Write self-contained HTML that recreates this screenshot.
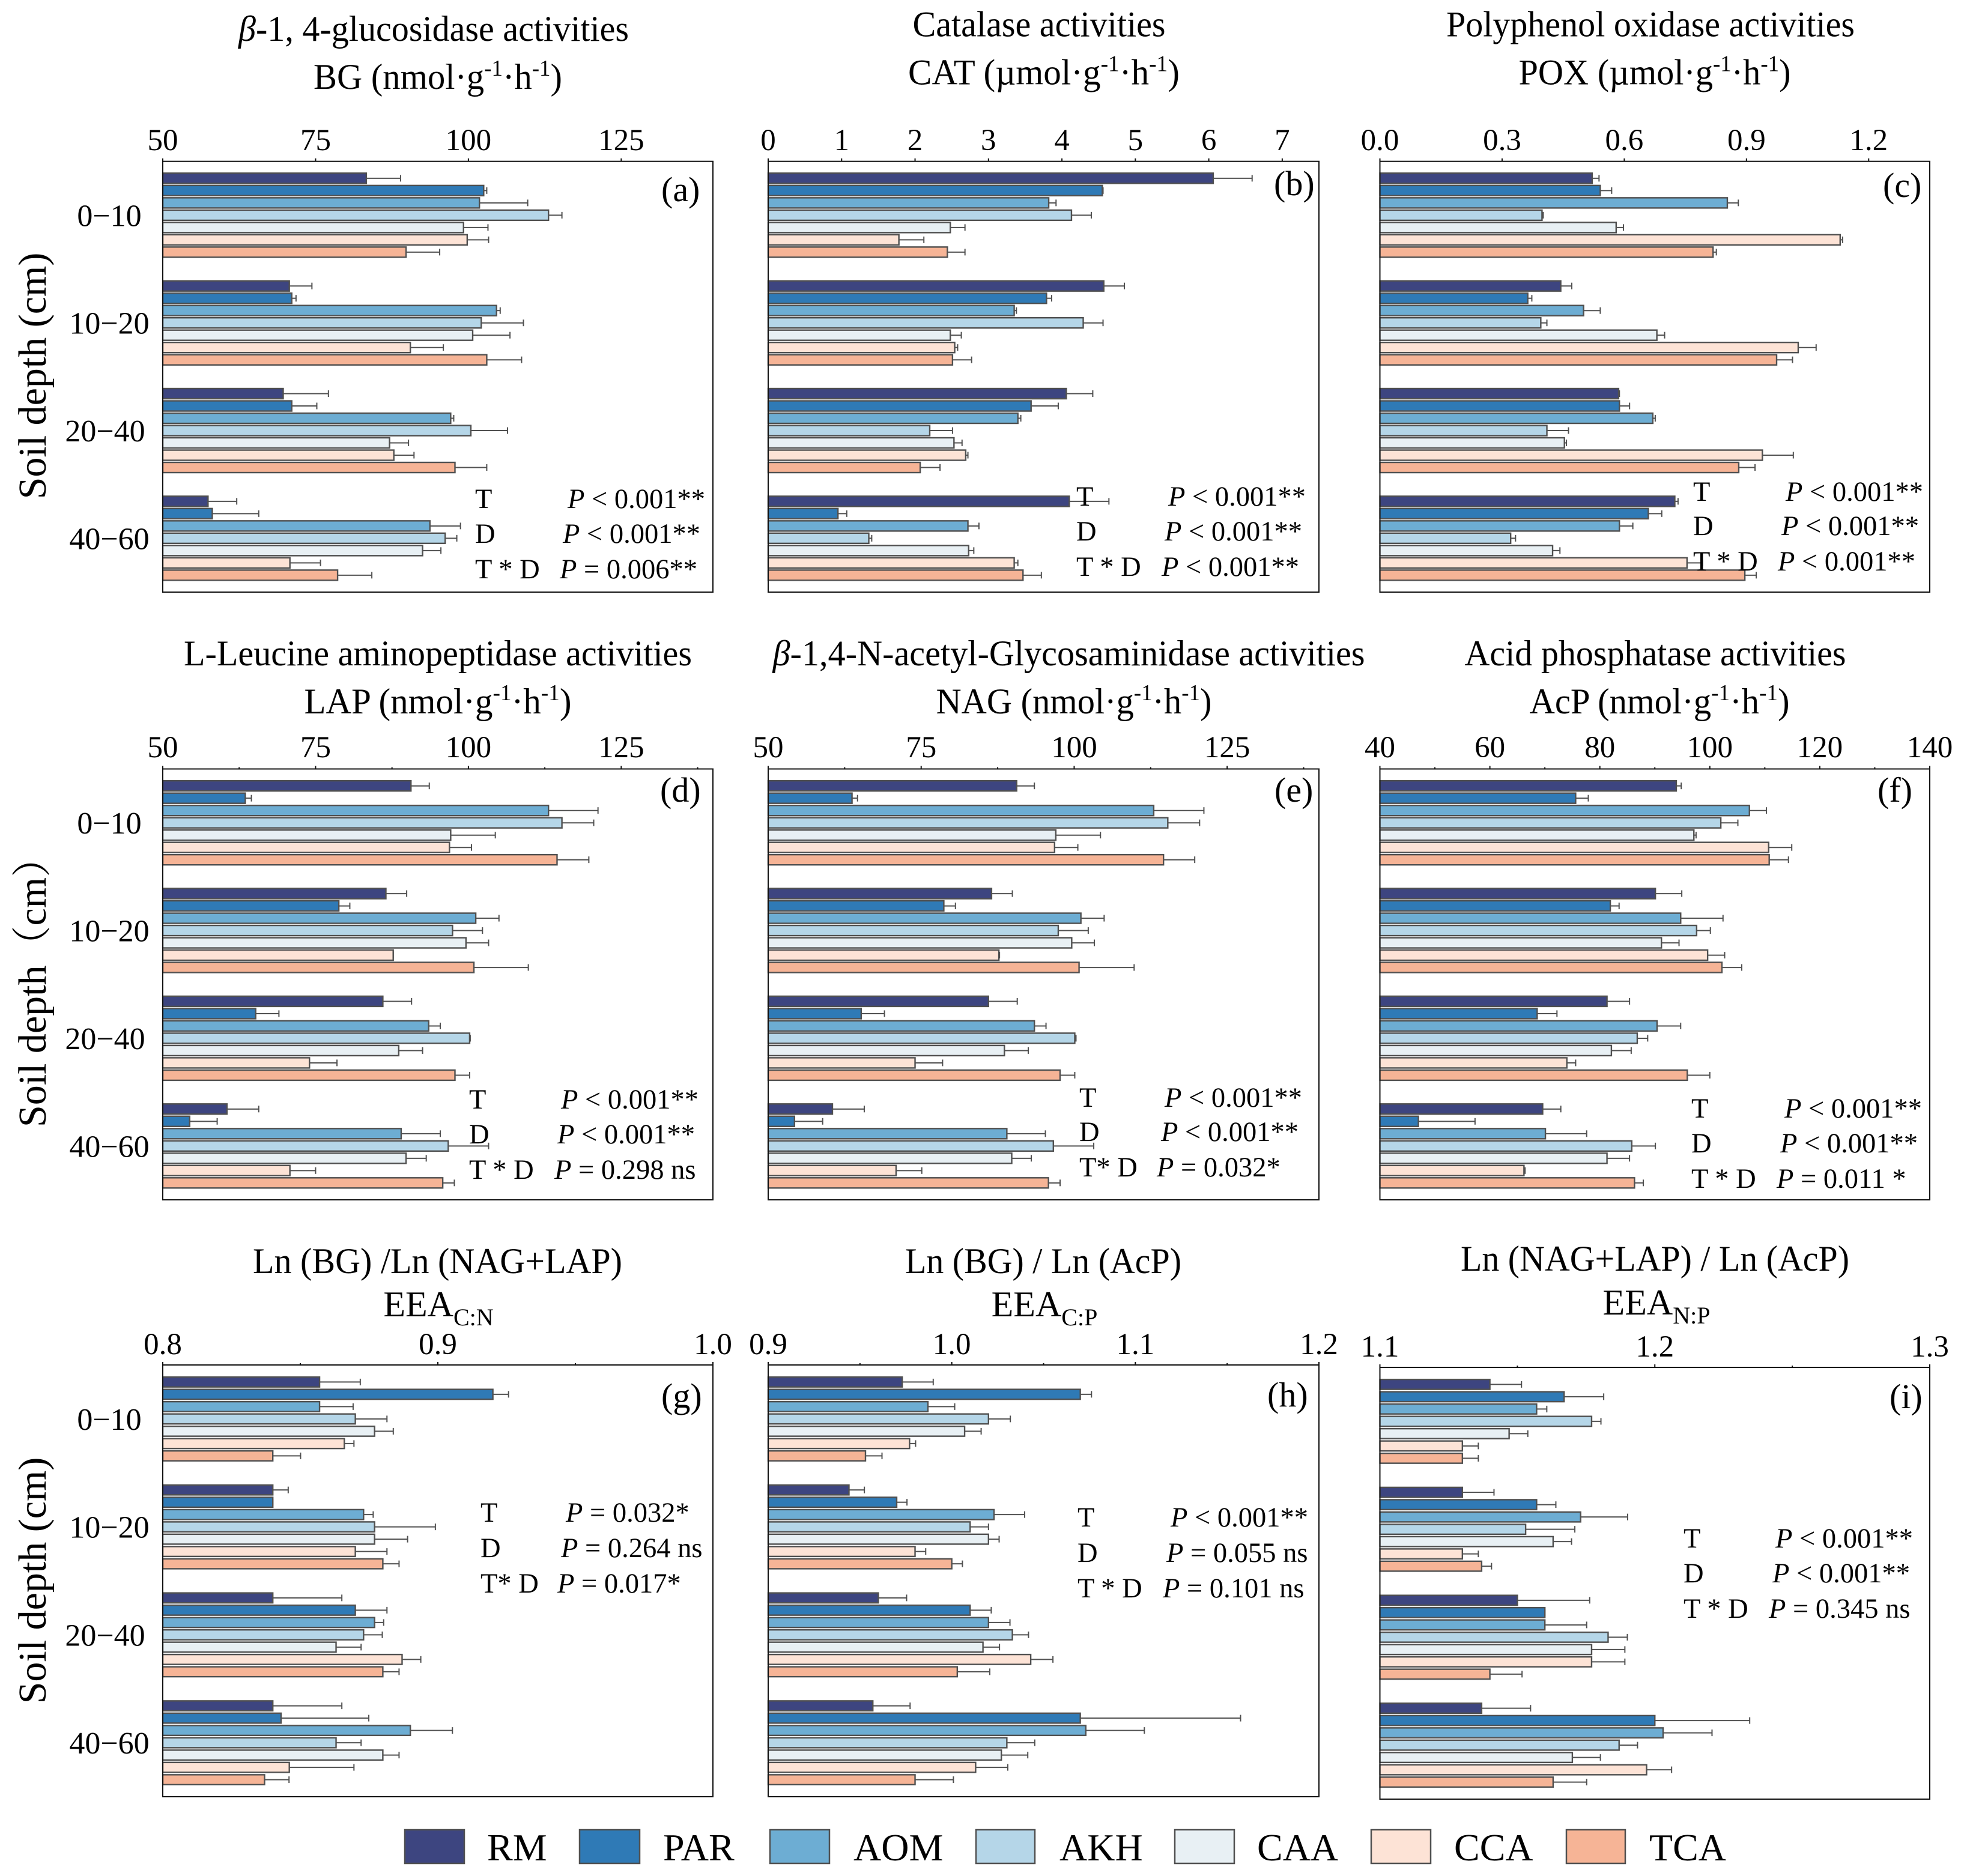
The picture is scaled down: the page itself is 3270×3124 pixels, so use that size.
<!DOCTYPE html>
<html lang="en">
<head>
<meta charset="utf-8">
<title>Soil enzyme activities by depth</title>
<style>
html,body{margin:0;padding:0;background:#fff;}
svg{display:block;}
text{font-family:"Liberation Serif","Noto Serif CJK SC",serif;fill:#000;}
.ttl{font-size:60px;text-anchor:middle;}
.ann{font-size:46.5px;}
.plab{font-size:58px;}
.ylab{font-size:66px;text-anchor:middle;}
.leg{font-size:64px;}
.it{font-style:italic;}
</style>
</head>
<body>
<svg id="figure" xmlns="http://www.w3.org/2000/svg" width="3270" height="3124" viewBox="0 0 3270 3124">
<rect x="0" y="0" width="3270" height="3124" fill="#fff"/>

<g id="plots"></g>

<g>
<text class="ttl" x="722" y="68" textLength="650" lengthAdjust="spacingAndGlyphs"><tspan class="it">β</tspan>-1, 4-glucosidase activities</text>
<text class="ttl" x="729" y="148" textLength="414" lengthAdjust="spacingAndGlyphs">BG (nmol·g<tspan dy="-22" font-size="38">-1</tspan><tspan dy="22">·h</tspan><tspan dy="-22" font-size="38">-1</tspan><tspan dy="22">)</tspan></text>
<text class="ttl" x="1730" y="60.5" textLength="421" lengthAdjust="spacingAndGlyphs">Catalase activities</text>
<text class="ttl" x="1738" y="140.5" textLength="452" lengthAdjust="spacingAndGlyphs">CAT (µmol·g<tspan dy="-22" font-size="38">-1</tspan><tspan dy="22">·h</tspan><tspan dy="-22" font-size="38">-1</tspan><tspan dy="22">)</tspan></text>
<text class="ttl" x="2748" y="60.5" textLength="680" lengthAdjust="spacingAndGlyphs">Polyphenol oxidase activities</text>
<text class="ttl" x="2755" y="140.5" textLength="453" lengthAdjust="spacingAndGlyphs">POX (µmol·g<tspan dy="-22" font-size="38">-1</tspan><tspan dy="22">·h</tspan><tspan dy="-22" font-size="38">-1</tspan><tspan dy="22">)</tspan></text>

<text class="ttl" x="729" y="1108" textLength="846" lengthAdjust="spacingAndGlyphs">L-Leucine aminopeptidase activities</text>
<text class="ttl" x="729" y="1188" textLength="445" lengthAdjust="spacingAndGlyphs">LAP (nmol·g<tspan dy="-22" font-size="38">-1</tspan><tspan dy="22">·h</tspan><tspan dy="-22" font-size="38">-1</tspan><tspan dy="22">)</tspan></text>
<text class="ttl" x="1779.5" y="1108" textLength="986" lengthAdjust="spacingAndGlyphs"><tspan class="it">β</tspan>-1,4-N-acetyl-Glycosaminidase activities</text>
<text class="ttl" x="1788" y="1188" textLength="459" lengthAdjust="spacingAndGlyphs">NAG (nmol·g<tspan dy="-22" font-size="38">-1</tspan><tspan dy="22">·h</tspan><tspan dy="-22" font-size="38">-1</tspan><tspan dy="22">)</tspan></text>
<text class="ttl" x="2756" y="1108" textLength="635" lengthAdjust="spacingAndGlyphs">Acid phosphatase activities</text>
<text class="ttl" x="2763" y="1188" textLength="433" lengthAdjust="spacingAndGlyphs">AcP (nmol·g<tspan dy="-22" font-size="38">-1</tspan><tspan dy="22">·h</tspan><tspan dy="-22" font-size="38">-1</tspan><tspan dy="22">)</tspan></text>

<text class="ttl" x="728.5" y="2120" textLength="615" lengthAdjust="spacingAndGlyphs">Ln (BG) /Ln (NAG+LAP)</text>
<text class="ttl" x="730" y="2192">EEA<tspan dy="15" font-size="40">C:N</tspan></text>
<text class="ttl" x="1737" y="2120" textLength="460" lengthAdjust="spacingAndGlyphs">Ln (BG) / Ln (AcP)</text>
<text class="ttl" x="1739" y="2192">EEA<tspan dy="15" font-size="40">C:P</tspan></text>
<text class="ttl" x="2755.5" y="2116" textLength="647" lengthAdjust="spacingAndGlyphs">Ln (NAG+LAP) / Ln (AcP)</text>
<text class="ttl" x="2758" y="2189">EEA<tspan dy="15" font-size="40">N:P</tspan></text>
</g>

<g>
<text class="ylab" transform="translate(76,626) rotate(-90)">Soil depth (cm)</text>
<text class="ylab" style="text-anchor:start" transform="translate(76,1877) rotate(-90)">Soil depth（cm）</text>
<text class="ylab" transform="translate(76,2632) rotate(-90)">Soil depth (cm)</text>
</g>

<g>
<text class="plab" x="1101" y="335">(a)</text>
<text class="plab" x="2121" y="325">(b)</text>
<text class="plab" x="3135" y="328">(c)</text>
<text class="plab" x="1099" y="1335">(d)</text>
<text class="plab" x="2122" y="1335">(e)</text>
<text class="plab" x="3126" y="1335">(f)</text>
<text class="plab" x="1101" y="2344">(g)</text>
<text class="plab" x="2110" y="2342">(h)</text>
<text class="plab" x="3146" y="2345">(i)</text>
</g>

<g>
<text class="ann" x="791" y="846">T</text>
<text class="ann" x="945" y="846"><tspan class="it">P</tspan> &lt; 0.001**</text>
<text class="ann" x="791" y="904">D</text>
<text class="ann" x="937" y="904"><tspan class="it">P</tspan> &lt; 0.001**</text>
<text class="ann" x="791" y="963">T * D</text>
<text class="ann" x="932" y="963"><tspan class="it">P</tspan> = 0.006**</text>

<text class="ann" x="1792" y="842">T</text>
<text class="ann" x="1945" y="842"><tspan class="it">P</tspan> &lt; 0.001**</text>
<text class="ann" x="1792" y="900">D</text>
<text class="ann" x="1939" y="900"><tspan class="it">P</tspan> &lt; 0.001**</text>
<text class="ann" x="1792" y="959">T * D</text>
<text class="ann" x="1934" y="959"><tspan class="it">P</tspan> &lt; 0.001**</text>

<text class="ann" x="2819" y="834">T</text>
<text class="ann" x="2973" y="834"><tspan class="it">P</tspan> &lt; 0.001**</text>
<text class="ann" x="2819" y="891">D</text>
<text class="ann" x="2966" y="891"><tspan class="it">P</tspan> &lt; 0.001**</text>
<text class="ann" x="2819" y="950">T * D</text>
<text class="ann" x="2960" y="950"><tspan class="it">P</tspan> &lt; 0.001**</text>

<text class="ann" x="781" y="1846">T</text>
<text class="ann" x="934" y="1846"><tspan class="it">P</tspan> &lt; 0.001**</text>
<text class="ann" x="781" y="1904">D</text>
<text class="ann" x="928" y="1904"><tspan class="it">P</tspan> &lt; 0.001**</text>
<text class="ann" x="781" y="1963">T * D</text>
<text class="ann" x="923" y="1963"><tspan class="it">P</tspan> = 0.298 ns</text>

<text class="ann" x="1797" y="1843">T</text>
<text class="ann" x="1939" y="1843"><tspan class="it">P</tspan> &lt; 0.001**</text>
<text class="ann" x="1797" y="1900">D</text>
<text class="ann" x="1933" y="1900"><tspan class="it">P</tspan> &lt; 0.001**</text>
<text class="ann" x="1797" y="1959">T* D</text>
<text class="ann" x="1926" y="1959"><tspan class="it">P</tspan> = 0.032*</text>

<text class="ann" x="2816" y="1861">T</text>
<text class="ann" x="2971" y="1861"><tspan class="it">P</tspan> &lt; 0.001**</text>
<text class="ann" x="2816" y="1919">D</text>
<text class="ann" x="2964" y="1919"><tspan class="it">P</tspan> &lt; 0.001**</text>
<text class="ann" x="2816" y="1978">T * D</text>
<text class="ann" x="2958" y="1978"><tspan class="it">P</tspan> = 0.011 *</text>

<text class="ann" x="800" y="2534">T</text>
<text class="ann" x="942" y="2534"><tspan class="it">P</tspan> = 0.032*</text>
<text class="ann" x="800" y="2593">D</text>
<text class="ann" x="934" y="2593"><tspan class="it">P</tspan> = 0.264 ns</text>
<text class="ann" x="800" y="2652">T* D</text>
<text class="ann" x="928" y="2652"><tspan class="it">P</tspan> = 0.017*</text>

<text class="ann" x="1794" y="2542">T</text>
<text class="ann" x="1949" y="2542"><tspan class="it">P</tspan> &lt; 0.001**</text>
<text class="ann" x="1794" y="2601">D</text>
<text class="ann" x="1942" y="2601"><tspan class="it">P</tspan> = 0.055 ns</text>
<text class="ann" x="1794" y="2660">T * D</text>
<text class="ann" x="1936" y="2660"><tspan class="it">P</tspan> = 0.101 ns</text>

<text class="ann" x="2803" y="2577">T</text>
<text class="ann" x="2956" y="2577"><tspan class="it">P</tspan> &lt; 0.001**</text>
<text class="ann" x="2803" y="2635">D</text>
<text class="ann" x="2951" y="2635"><tspan class="it">P</tspan> &lt; 0.001**</text>
<text class="ann" x="2803" y="2694">T * D</text>
<text class="ann" x="2945" y="2694"><tspan class="it">P</tspan> = 0.345 ns</text>
</g>

<g stroke-width="2.5">
<rect x="674" y="3047" width="99" height="56" fill="#3d4580" stroke="#505050"/>
<text class="leg" x="811" y="3098">RM</text>
<rect x="965" y="3047" width="100" height="56" fill="#2f7ab6" stroke="#505050"/>
<text class="leg" x="1104" y="3098">PAR</text>
<rect x="1282" y="3047" width="99" height="56" fill="#6dadd3" stroke="#505050"/>
<text class="leg" x="1421" y="3098">AOM</text>
<rect x="1625" y="3047" width="98" height="56" fill="#b5d6e8" stroke="#505050"/>
<text class="leg" x="1764" y="3098">AKH</text>
<rect x="1956" y="3047" width="99" height="56" fill="#e8f0f4" stroke="#505050"/>
<text class="leg" x="2093" y="3098">CAA</text>
<rect x="2283" y="3047" width="99" height="56" fill="#fde3d6" stroke="#505050"/>
<text class="leg" x="2421" y="3098">CCA</text>
<rect x="2608" y="3047" width="98" height="56" fill="#f6b496" stroke="#505050"/>
<text class="leg" x="2746" y="3098">TCA</text>
</g>
</svg>

<script>
// Categories
const depths = ["0−10", "10−20", "20−40", "40−60"];
const treatments = ["RM", "PAR", "AOM", "AKH", "CAA", "CCA", "TCA"];

// Axis ticks
const bgTicks = ["50", "75", "100", "125"];
const catTicks = ["0", "1", "2", "3", "4", "5", "6", "7"];
const poxTicks = ["0.0", "0.3", "0.6", "0.9", "1.2"];
const lapTicks = ["50", "75", "100", "125"];
const nagTicks = ["50", "75", "100", "125"];
const acpTicks = ["40", "60", "80", "100", "120", "140"];
const cnTicks = ["0.8", "0.9", "1.0"];
const cpTicks = ["0.9", "1.0", "1.1", "1.2"];
const npTicks = ["1.1", "1.2", "1.3"];
const noMinor = [];
const lapMinor = [62.5, 87.5, 112.5, 137.5];
const nagMinor = [62.5, 87.5, 112.5, 137.5];
const acpMinor = [50, 70, 90, 110, 130];
const cnMinor = [0.85, 0.95];
const cpMinor = [0.95, 1.05, 1.15];
const npMinor = [1.15, 1.25];

// Series values: one row per depth, one entry per treatment
const bgValues = [
  [83.3, 102.5, 101.8, 113.1, 99.2, 99.8, 89.8],
  [70.7, 71.1, 104.6, 102.1, 100.7, 90.5, 103.0],
  [69.7, 71.1, 97.1, 100.4, 87.1, 87.8, 97.8],
  [57.4, 58.1, 93.7, 96.2, 92.5, 70.8, 78.6]
];
const bgErrors = [
  [5.6, 0.5, 7.9, 2.2, 4.0, 3.5, 5.5],
  [3.7, 0.7, 0.6, 6.9, 6.1, 5.4, 5.7],
  [7.4, 4.1, 0.5, 6.0, 3.1, 3.3, 5.2],
  [4.7, 7.6, 5.0, 1.9, 3.0, 5.0, 5.6]
];
const catValues = [
  [6.06, 4.55, 3.82, 4.13, 2.48, 1.78, 2.44],
  [4.57, 3.79, 3.35, 4.29, 2.48, 2.54, 2.51],
  [4.06, 3.58, 3.40, 2.20, 2.53, 2.69, 2.07],
  [4.10, 0.95, 2.72, 1.37, 2.73, 3.35, 3.47]
];
const catErrors = [
  [0.53, 0.01, 0.10, 0.27, 0.20, 0.34, 0.24],
  [0.28, 0.07, 0.03, 0.27, 0.15, 0.04, 0.26],
  [0.36, 0.37, 0.04, 0.31, 0.11, 0.03, 0.27],
  [0.54, 0.12, 0.15, 0.04, 0.07, 0.05, 0.25]
];
const poxValues = [
  [0.521, 0.541, 0.853, 0.398, 0.580, 1.130, 0.818],
  [0.444, 0.363, 0.500, 0.395, 0.680, 1.027, 0.974],
  [0.586, 0.588, 0.670, 0.410, 0.453, 0.939, 0.881],
  [0.724, 0.659, 0.588, 0.321, 0.424, 0.754, 0.896]
];
const poxErrors = [
  [0.017, 0.028, 0.027, 0.003, 0.018, 0.006, 0.008],
  [0.027, 0.010, 0.041, 0.015, 0.019, 0.044, 0.039],
  [0.002, 0.025, 0.006, 0.053, 0.005, 0.076, 0.040],
  [0.008, 0.033, 0.033, 0.012, 0.018, 0.038, 0.028]
];
const lapValues = [
  [90.6, 63.5, 113.1, 115.3, 97.1, 96.9, 114.5],
  [86.5, 78.8, 101.2, 97.4, 99.6, 87.7, 100.9],
  [86.0, 65.2, 93.5, 100.2, 88.6, 74.0, 97.8],
  [60.5, 54.4, 89.0, 96.7, 89.8, 70.8, 95.8]
];
const lapErrors = [
  [3.0, 1.0, 8.1, 5.2, 7.3, 3.6, 5.2],
  [3.4, 1.8, 3.8, 4.9, 3.7, 0.0, 8.9],
  [4.7, 3.8, 1.9, 0.1, 3.9, 4.5, 2.4],
  [5.2, 4.5, 6.4, 6.6, 3.3, 4.2, 1.9]
];
const nagValues = [
  [90.6, 63.7, 113.0, 115.3, 97.0, 96.8, 114.6],
  [86.5, 78.7, 101.1, 97.4, 99.6, 87.7, 100.8],
  [86.0, 65.2, 93.5, 100.1, 88.6, 74.0, 97.7],
  [60.5, 54.3, 89.0, 96.6, 89.8, 70.9, 95.8]
];
const nagErrors = [
  [2.9, 0.9, 8.2, 5.2, 7.3, 3.8, 5.1],
  [3.4, 1.9, 3.8, 4.9, 3.7, 0.1, 9.0],
  [4.7, 3.8, 1.9, 0.2, 3.9, 4.5, 2.4],
  [5.2, 4.6, 6.3, 6.6, 3.2, 4.2, 1.9]
];
const acpValues = [
  [93.9, 75.6, 107.2, 102.0, 97.1, 110.7, 110.8],
  [90.1, 81.9, 94.7, 97.6, 91.2, 99.6, 102.2],
  [81.3, 68.6, 90.4, 86.8, 82.1, 74.0, 95.9],
  [69.6, 47.0, 70.1, 85.8, 81.3, 66.2, 86.3]
];
const acpErrors = [
  [0.9, 2.3, 3.1, 3.1, 0.4, 4.2, 3.5],
  [4.8, 1.6, 7.7, 2.5, 3.2, 3.1, 3.6],
  [4.1, 3.6, 4.3, 1.9, 3.6, 1.6, 4.1],
  [3.3, 10.3, 7.5, 4.3, 4.1, 0.2, 1.6]
];
const cnValues = [
  [0.857, 0.920, 0.857, 0.870, 0.877, 0.866, 0.840],
  [0.840, 0.840, 0.873, 0.877, 0.877, 0.870, 0.880],
  [0.840, 0.870, 0.877, 0.873, 0.863, 0.887, 0.880],
  [0.840, 0.843, 0.890, 0.863, 0.880, 0.846, 0.837]
];
const cnErrors = [
  [0.0148, 0.0057, 0.0122, 0.0115, 0.0068, 0.0035, 0.0101],
  [0.0056, 0.0, 0.0035, 0.0221, 0.0120, 0.0115, 0.0059],
  [0.0251, 0.0115, 0.0033, 0.0068, 0.0091, 0.0068, 0.0059],
  [0.0251, 0.0319, 0.0153, 0.0091, 0.0059, 0.0235, 0.0089]
];
const cpValues = [
  [0.973, 1.070, 0.987, 1.020, 1.007, 0.977, 0.953],
  [0.944, 0.970, 1.023, 1.010, 1.020, 0.980, 1.000],
  [0.960, 1.010, 1.020, 1.033, 1.017, 1.043, 1.003],
  [0.957, 1.070, 1.073, 1.030, 1.027, 1.013, 0.980]
];
const cpErrors = [
  [0.0169, 0.0061, 0.0146, 0.0119, 0.0090, 0.0033, 0.0090],
  [0.0084, 0.0056, 0.0167, 0.0100, 0.0058, 0.0058, 0.0058],
  [0.0154, 0.0115, 0.0117, 0.0088, 0.0090, 0.0121, 0.0177],
  [0.0203, 0.0873, 0.0319, 0.0152, 0.0144, 0.0175, 0.0209]
];
const npValues = [
  [1.140, 1.167, 1.157, 1.177, 1.147, 1.130, 1.130],
  [1.130, 1.157, 1.173, 1.153, 1.163, 1.130, 1.137],
  [1.150, 1.160, 1.160, 1.183, 1.177, 1.177, 1.140],
  [1.137, 1.200, 1.203, 1.187, 1.170, 1.197, 1.163]
];
const npErrors = [
  [0.0115, 0.0144, 0.0037, 0.0034, 0.0068, 0.0058, 0.0058],
  [0.0115, 0.0070, 0.0171, 0.0179, 0.0067, 0.0058, 0.0036],
  [0.0263, 0.0, 0.0152, 0.0070, 0.0121, 0.0121, 0.0117],
  [0.0178, 0.0345, 0.0178, 0.0067, 0.0102, 0.0091, 0.0122]
];

// Layout and style (kept apart from the data)
const fills = {RM: "#3d4580", PAR: "#2f7ab6", AOM: "#6dadd3", AKH: "#b5d6e8", CAA: "#e8f0f4", CCA: "#fde3d6", TCA: "#f6b496"};
const col1 = {left: 271, right: 1187};
const col2 = {left: 1279, right: 2196};
const col3 = {left: 2297.5, right: 3213};
const row1 = {top: 268.7, bottom: 986, tickBase: 250, barHeight: 17};
const row2 = {top: 1280.5, bottom: 1998, tickBase: 1261, barHeight: 17};
const row3 = {top: 2273, bottom: 2992, tickBase: 2255, barHeight: 16.5};
const row3c = {top: 2277, bottom: 2996, tickBase: 2259, barHeight: 16.5};
const BAR_STEP = 20.5;
const panels = [
  {id: "a", col: col1, row: row1, min: 50, max: 140, ticks: bgTicks, minor: noMinor, values: bgValues, errors: bgErrors, depthLabels: true},
  {id: "b", col: col2, row: row1, min: 0, max: 7.5, ticks: catTicks, minor: noMinor, values: catValues, errors: catErrors},
  {id: "c", col: col3, row: row1, min: 0, max: 1.35, ticks: poxTicks, minor: noMinor, values: poxValues, errors: poxErrors},
  {id: "d", col: col1, row: row2, min: 50, max: 140, ticks: lapTicks, minor: lapMinor, values: lapValues, errors: lapErrors, depthLabels: true},
  {id: "e", col: col2, row: row2, min: 50, max: 140, ticks: nagTicks, minor: nagMinor, values: nagValues, errors: nagErrors},
  {id: "f", col: col3, row: row2, min: 40, max: 140, ticks: acpTicks, minor: acpMinor, values: acpValues, errors: acpErrors},
  {id: "g", col: col1, row: row3, min: 0.8, max: 1.0, ticks: cnTicks, minor: cnMinor, values: cnValues, errors: cnErrors, depthLabels: true},
  {id: "h", col: col2, row: row3, min: 0.9, max: 1.2, ticks: cpTicks, minor: cpMinor, values: cpValues, errors: cpErrors},
  {id: "i", col: col3, row: row3c, min: 1.1, max: 1.3, ticks: npTicks, minor: npMinor, values: npValues, errors: npErrors}
];

const NS = "http://www.w3.org/2000/svg";
const plots = document.getElementById("plots");

function make(parent, tag, attrs) {
  const node = document.createElementNS(NS, tag);
  for (const key in attrs) node.setAttribute(key, attrs[key]);
  parent.appendChild(node);
  return node;
}

function drawPanel(p) {
  const group = make(plots, "g", {});
  
  

  const left = p.col.left, right = p.col.right, top = p.row.top, bottom = p.row.bottom;
  const x = v => left + (v - p.min) / (p.max - p.min) * (right - left);
  const band = i => top + (i + 0.5) * (bottom - top) / depths.length;
  const barY = (i, j) => band(i) + (j - (treatments.length - 1) / 2) * BAR_STEP;

  // Bars and error bars
  p.values.forEach((rowValues, i) => {
    rowValues.forEach((value, j) => {
      const name = treatments[j];
      const cy = barY(i, j);
      const end = x(value);
      const errEnd = x(value + p.errors[i][j]);

      const stem = make(group, "line", {x1: end, x2: errEnd, y1: cy, y2: cy, stroke: "#505050", "stroke-width": 2});
      
      

      const cap = make(group, "line", {x1: errEnd, x2: errEnd, y1: cy - 5.5, y2: cy + 5.5, stroke: "#505050", "stroke-width": 2});
      
      

      const bar = make(group, "rect", {x: left, y: cy - p.row.barHeight / 2, width: end - left, height: p.row.barHeight, fill: fills[name], stroke: "#505050", "stroke-width": 2.4});
      
      
    });
  });

  // Frame
  const frame = make(group, "rect", {x: left, y: top, width: right - left, height: bottom - top, fill: "none", stroke: "#111", "stroke-width": 2});
  
  

  // Major ticks and labels
  p.ticks.forEach(label => {
    const tx = x(parseFloat(label));
    const tick = make(group, "line", {x1: tx, x2: tx, y1: top, y2: top - 5, stroke: "#111", "stroke-width": 2});
    
    

    const text = make(group, "text", {x: tx, y: p.row.tickBase, "text-anchor": "middle", "font-size": 51});
    text.textContent = label;
    
    
  });

  // Minor ticks
  p.minor.forEach(value => {
    const tx = x(value);
    const tick = make(group, "line", {x1: tx, x2: tx, y1: top, y2: top - 3, stroke: "#111", "stroke-width": 2});
    
    
  });

  // Depth category labels
  if (p.depthLabels) {
    depths.forEach((label, i) => {
      const nudge = label === "20−40" ? -7 : 0;
      const text = make(group, "text", {x: 182 + nudge, y: band(i) + 18, "text-anchor": "middle", "font-size": 52});
      text.textContent = label;
      
      
    });
  }
}

panels.forEach(drawPanel);
</script>
</body>
</html>
